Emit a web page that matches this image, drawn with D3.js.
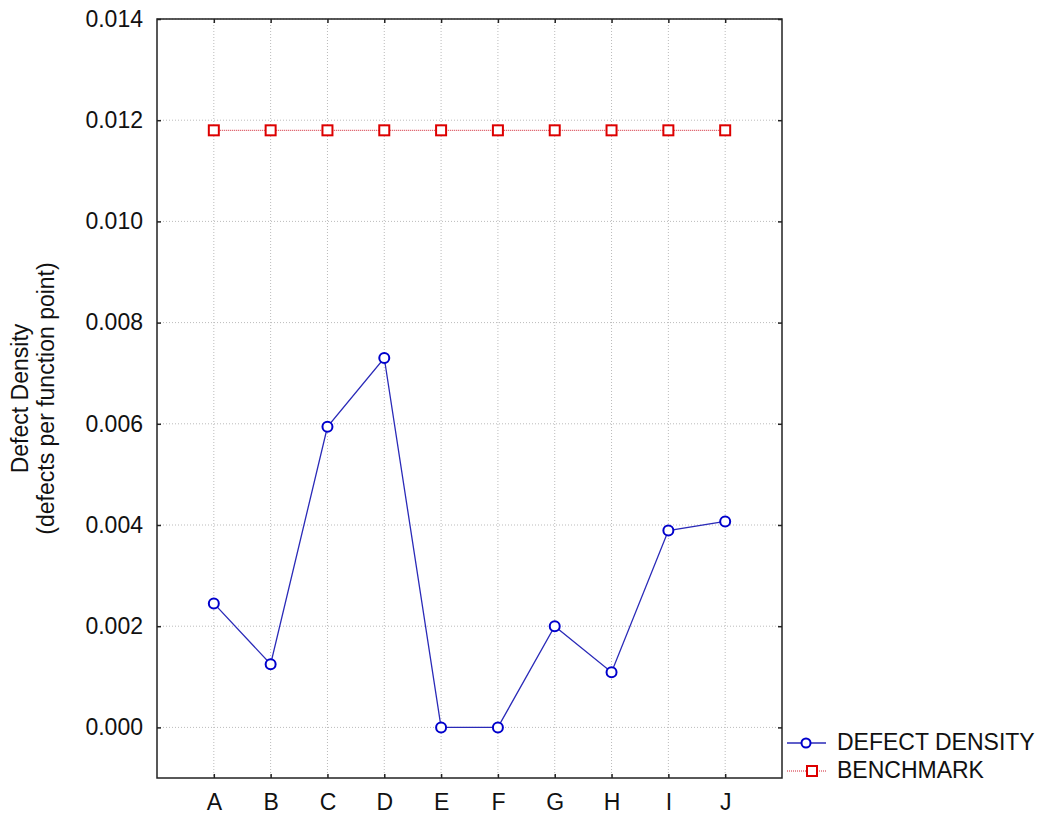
<!DOCTYPE html>
<html>
<head>
<meta charset="utf-8">
<script src="https://cdn.jsdelivr.net/npm/d3@7"></script>
<style>
  body { margin: 0; background: #fff; }
  svg text { font-family: Arial, "Liberation Sans", sans-serif; fill: #111; }
</style>
</head>
<body>
<div id="chart"></div>
<script>
// categories and series
const categories = ["A", "B", "C", "D", "E", "F", "G", "H", "I", "J"];
const defectDensity = [0.00245, 0.00125, 0.00594, 0.0073, 0, 0, 0.0020, 0.00109, 0.00389, 0.00407];
const benchmark = [0.0118, 0.0118, 0.0118, 0.0118, 0.0118, 0.0118, 0.0118, 0.0118, 0.0118, 0.0118];
const yTicks = [0, 0.002, 0.004, 0.006, 0.008, 0.010, 0.012, 0.014];

const w = 1041, h = 814;
const pl = 157, pr = 782, pt = 19, pb = 778;

const svg = d3.select("#chart").append("svg")
  .attr("width", w)
  .attr("height", h);

const x = d3.scalePoint()
  .domain(categories)
  .range([pl, pr])
  .padding(1);

const y = d3.scaleLinear()
  .domain([-0.001, 0.014])
  .range([pb, pt]);

// grid
svg.append("g")
  .selectAll("line")
  .data(yTicks)
  .enter().append("line")
  .attr("x1", pl).attr("x2", pr)
  .attr("y1", d => y(d)).attr("y2", d => y(d))
  .attr("stroke", "#bbb")
  .attr("stroke-dasharray", "1,2");

svg.append("g")
  .selectAll("line")
  .data(categories)
  .enter().append("line")
  .attr("x1", d => x(d)).attr("x2", d => x(d))
  .attr("y1", pt).attr("y2", pb)
  .attr("stroke", "#bbb")
  .attr("stroke-dasharray", "1,2");

// axes, ticks pointing inward
const yAxis = d3.axisLeft(y).tickValues(yTicks).tickFormat(d3.format(".3f")).tickSizeInner(-4).tickSizeOuter(0).tickPadding(14);
const yAxisR = d3.axisRight(y).tickValues(yTicks).tickFormat("").tickSizeInner(-4).tickSizeOuter(0);
const xAxis = d3.axisBottom(x).tickSizeInner(-4).tickSizeOuter(0).tickPadding(16);
const xAxisT = d3.axisTop(x).tickFormat("").tickSizeInner(-4).tickSizeOuter(0);

function styleAxis(g) {
  g.select(".domain").remove();
  g.selectAll(".tick line").attr("stroke", "#222").attr("stroke-width", 1.5);
  g.selectAll(".tick text").style("font-size", "23px").attr("fill", "#111");
}

svg.append("g").attr("transform", "translate(" + pl + ",0)").call(yAxis).call(styleAxis);
svg.append("g").attr("transform", "translate(" + pr + ",0)").call(yAxisR).call(styleAxis);
svg.append("g").attr("transform", "translate(0," + pb + ")").call(xAxis).call(styleAxis);
svg.append("g").attr("transform", "translate(0," + pt + ")").call(xAxisT).call(styleAxis);

// frame
svg.append("rect")
  .attr("x", pl).attr("y", pt)
  .attr("width", pr - pl).attr("height", pb - pt)
  .attr("fill", "none")
  .attr("stroke", "#222")
  .attr("stroke-width", 1.5);

// y title
const yt = svg.append("text")
  .attr("transform", "translate(0," + ((pt + pb) / 2) + ") rotate(-90)")
  .attr("text-anchor", "middle")
  .style("font-size", "23px");
yt.append("tspan").attr("x", 0).attr("y", 28).text("Defect Density");
yt.append("tspan").attr("x", 0).attr("y", 54).text("(defects per function point)");

// benchmark series
const line = d3.line()
  .x((d, i) => x(categories[i]))
  .y(d => y(d));

svg.append("path")
  .datum(benchmark)
  .attr("d", line)
  .attr("fill", "none")
  .attr("stroke", "#d02030")
  .attr("stroke-width", 1)
  .attr("stroke-dasharray", "1,1");

svg.append("g")
  .selectAll("rect")
  .data(benchmark)
  .enter().append("rect")
  .attr("x", (d, i) => x(categories[i]) - 5)
  .attr("y", d => y(d) - 5)
  .attr("width", 10).attr("height", 10)
  .attr("fill", "#fff")
  .attr("stroke", "#dd0000")
  .attr("stroke-width", 2);

// defect density series
svg.append("path")
  .datum(defectDensity)
  .attr("d", line)
  .attr("fill", "none")
  .attr("stroke", "#2a2ab8")
  .attr("stroke-width", 1.3);

svg.append("g")
  .selectAll("circle")
  .data(defectDensity)
  .enter().append("circle")
  .attr("cx", (d, i) => x(categories[i]))
  .attr("cy", d => y(d))
  .attr("r", 5)
  .attr("fill", "#fff")
  .attr("stroke", "#0000cc")
  .attr("stroke-width", 2);

// legend
const lg = svg.append("g");
lg.append("line").attr("x1", 787).attr("x2", 826).attr("y1", 743).attr("y2", 743)
  .attr("stroke", "#2a2ab8").attr("stroke-width", 1.3);
lg.append("circle").attr("cx", 806).attr("cy", 743).attr("r", 4.5)
  .attr("fill", "#fff").attr("stroke", "#0000cc").attr("stroke-width", 2);
lg.append("text").attr("x", 837).attr("y", 750).style("font-size", "23px").text("DEFECT DENSITY");

lg.append("line").attr("x1", 787).attr("x2", 826).attr("y1", 771).attr("y2", 771)
  .attr("stroke", "#d02030").attr("stroke-width", 1).attr("stroke-dasharray", "1,1");
lg.append("rect").attr("x", 807).attr("y", 766).attr("width", 10).attr("height", 10)
  .attr("fill", "#fff").attr("stroke", "#dd0000").attr("stroke-width", 2);
lg.append("text").attr("x", 837).attr("y", 778).style("font-size", "23px").text("BENCHMARK");
</script>
</body>
</html>
